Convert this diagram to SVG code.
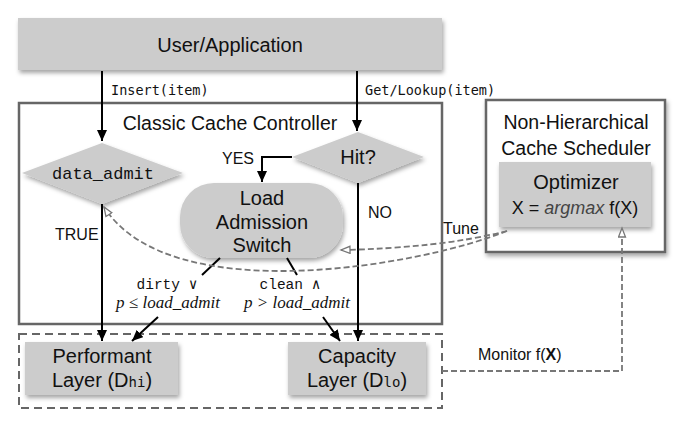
<svg xmlns="http://www.w3.org/2000/svg" width="697" height="421" viewBox="0 0 697 421">
<defs>
<filter id="sh" x="-10%" y="-10%" width="130%" height="140%">
<feDropShadow dx="1.5" dy="3" stdDeviation="2" flood-color="#000" flood-opacity="0.35"/>
</filter>
<marker id="ah" markerUnits="userSpaceOnUse" markerWidth="12" markerHeight="10" refX="11" refY="5" orient="auto">
<path d="M0,0 L11,5 L0,10 z" fill="#000"/>
</marker>
<marker id="oh" markerUnits="userSpaceOnUse" markerWidth="12" markerHeight="10" refX="10" refY="4.5" orient="auto">
<path d="M1,1 L10,4.5 L1,8 z" fill="#fff" stroke="#777" stroke-width="1.3"/>
</marker>
<style>
.sans{font-family:"Liberation Sans",Arial,sans-serif;fill:#111}
.mono{font-family:"DejaVu Sans Mono",monospace;fill:#111}
.tt{font-family:"Liberation Mono","Courier New",monospace;fill:#111}
.math{font-family:"Liberation Serif","Times New Roman",serif;font-style:italic;fill:#111}
.box{fill:#cccccc;filter:url(#sh)}
.frame{fill:#fff;stroke:#666;stroke-width:2.5}
.arrow{stroke:#000;stroke-width:2;fill:none}
.dash{stroke:#777;stroke-width:1.8;fill:none;stroke-dasharray:6 3}
</style>
</defs>

<g id="user">
<rect class="box" x="18" y="18" width="424" height="52"/>
<text class="sans" x="230" y="52" font-size="20" text-anchor="middle">User/Application</text>
</g>

<g id="controller">
<rect class="frame" x="19" y="103" width="423" height="221"/>
<text class="sans" x="230" y="130" font-size="19.5" text-anchor="middle">Classic Cache Controller</text>
</g>

<g id="scheduler">
<rect class="frame" x="486" y="100" width="179" height="152" filter="url(#sh)"/>
<text class="sans" x="576" y="129" font-size="19.5" text-anchor="middle">Non-Hierarchical</text>
<text class="sans" x="576" y="155" font-size="19.5" text-anchor="middle">Cache Scheduler</text>
</g>

<g id="optimizer">
<rect class="box" x="499" y="162" width="152" height="65"/>
<text class="sans" x="576" y="189" font-size="20" text-anchor="middle">Optimizer</text>
<text class="sans" x="575" y="214" font-size="18" text-anchor="middle">X = <tspan font-style="italic" fill="#444">argmax</tspan> f(X)</text>
</g>

<g id="storage">
<rect x="19" y="334" width="423" height="74" fill="none" stroke="#666" stroke-width="2" stroke-dasharray="8 5"/>
</g>

<g id="data_admit">
<polygon class="box" points="102,143 183,173 102,204 22,173"/>
<text class="tt" x="103" y="179" font-size="17" text-anchor="middle">data_admit</text>
</g>

<g id="hit">
<polygon class="box" points="358,132 424,157 358,183 292,157"/>
<text class="sans" x="358" y="164" font-size="20" text-anchor="middle">Hit?</text>
</g>

<g id="switch">
<rect class="box" x="180" y="183" width="163" height="75" rx="34" ry="34"/>
<text class="sans" x="262" y="205" font-size="20" text-anchor="middle">Load</text>
<text class="sans" x="262" y="229" font-size="20" text-anchor="middle">Admission</text>
<text class="sans" x="262" y="252" font-size="20" text-anchor="middle">Switch</text>
</g>

<g id="performant">
<rect class="box" x="25" y="342" width="153" height="53"/>
<text class="sans" x="102" y="363" font-size="20" text-anchor="middle">Performant</text>
<text class="sans" x="102" y="387" font-size="20" text-anchor="middle">Layer (D<tspan class="mono" font-size="14">hi</tspan>)</text>
</g>

<g id="capacity">
<rect class="box" x="288" y="342" width="138" height="53"/>
<text class="sans" x="357" y="363" font-size="20" text-anchor="middle">Capacity</text>
<text class="sans" x="357" y="387" font-size="20" text-anchor="middle">Layer (D<tspan class="mono" font-size="14">lo</tspan>)</text>
</g>

<g id="connectors">
<line class="arrow" x1="102" y1="71" x2="102" y2="141" marker-end="url(#ah)"/>
<line class="arrow" x1="357" y1="71" x2="357" y2="131" marker-end="url(#ah)"/>
<polyline class="arrow" points="292,157 262,157 262,182" marker-end="url(#ah)"/>
<line class="arrow" x1="102" y1="204" x2="102" y2="341" marker-end="url(#ah)"/>
<line class="arrow" x1="358" y1="183" x2="358" y2="341" marker-end="url(#ah)"/>
<line class="arrow" x1="220" y1="258" x2="202" y2="275" stroke-width="1.8"/>
<line class="arrow" x1="158" y1="317" x2="132" y2="341" stroke-width="1.8" marker-end="url(#ah)"/>
<line class="arrow" x1="287" y1="258" x2="297" y2="275" stroke-width="1.8"/>
<line class="arrow" x1="323" y1="317" x2="340" y2="341" stroke-width="1.8" marker-end="url(#ah)"/>
<path class="dash" d="M507,231 Q440,248 341,250" marker-end="url(#oh)"/>
<path class="dash" d="M507,231 C420,266 170,310 104,207" marker-end="url(#oh)"/>
<polyline class="dash" points="442,371 622,371 622,228" stroke-dasharray="5 3" marker-end="url(#oh)"/>
<text class="mono" x="111" y="95" font-size="13.5">Insert(item)</text>
<text class="mono" x="365" y="95" font-size="13.5">Get/Lookup(item)</text>
<text class="sans" x="222" y="164" font-size="16">YES</text>
<text class="sans" x="368" y="218" font-size="16">NO</text>
<text class="sans" x="55" y="240" font-size="16">TRUE</text>
<text class="sans" x="443" y="234" font-size="16">Tune</text>
<text class="sans" x="478" y="360" font-size="16">Monitor f(<tspan font-weight="bold">X</tspan>)</text>
<text class="tt" x="167" y="289" font-size="14.5" text-anchor="middle">dirty ∨</text>
<text class="math" x="168" y="308" font-size="17" text-anchor="middle">p ≤ load_admit</text>
<text class="tt" x="290" y="289" font-size="14.5" text-anchor="middle">clean ∧</text>
<text class="math" x="297" y="308" font-size="17" text-anchor="middle">p &gt; load_admit</text>
</g>
</svg>
